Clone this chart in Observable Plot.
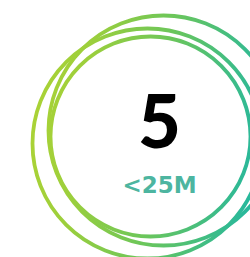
<!DOCTYPE html>
<html>
<head>
<meta charset="utf-8">
<script src="https://cdn.jsdelivr.net/npm/d3@7"></script>
<script src="https://cdn.jsdelivr.net/npm/@observablehq/plot@0.6"></script>
<style>
  html, body { margin: 0; padding: 0; background: #fff; }
  svg { display: block; }
</style>
</head>
<body>
<div id="chart"></div>
<script>
// Headline value and its label
const headline = ["5"];
const label = ["<25M"];

// Decorative hand-drawn rings (centre and radius, in chart units)
const ringX = [163, 147, 150];
const ringY = [130, 143, 136];
const ringR = [115, 115, 100];

const rings = ringX.map((x, i) => ({x, y: ringY[i], r: ringR[i]}));

const W = 250, H = 257;

const chart = Plot.plot({
  width: W,
  height: H,
  margin: 0,
  x: {domain: [0, W], range: [0, W], axis: null},
  y: {domain: [0, H], range: [0, H], axis: null},
  r: {type: "identity"},
  style: {background: "transparent"},
  marks: [
    Plot.dot(rings, {x: "x", y: "y", r: "r", stroke: "url(#ringGrad)", strokeWidth: 3.8, fill: "none"}),
    Plot.text(headline, {x: () => 159, y: () => 124, text: d => d, fontSize: 74, fontWeight: 900,
      fontFamily: "Lato, 'Open Sans', sans-serif", fill: "#000", textAnchor: "middle", lineAnchor: "middle"}),
    Plot.text(label, {x: () => 159, y: () => 185, text: d => d, fontSize: 23, fontWeight: "bold",
      fontFamily: "'DejaVu Sans', sans-serif", fill: "#4db5a0", textAnchor: "middle", lineAnchor: "middle"})
  ]
});

const defs = d3.select(chart).insert("defs", ":first-child");
const grad = defs.append("linearGradient")
  .attr("id", "ringGrad")
  .attr("gradientUnits", "userSpaceOnUse")
  .attr("x1", 35).attr("y1", 120).attr("x2", 255).attr("y2", 150);
grad.append("stop").attr("offset", 0).attr("stop-color", "#a9d236");
grad.append("stop").attr("offset", 0.2).attr("stop-color", "#9ccf3c");
grad.append("stop").attr("offset", 0.55).attr("stop-color", "#6cc65a");
grad.append("stop").attr("offset", 1).attr("stop-color", "#28b89c");

document.getElementById("chart").appendChild(chart);
</script>
</body>
</html>
